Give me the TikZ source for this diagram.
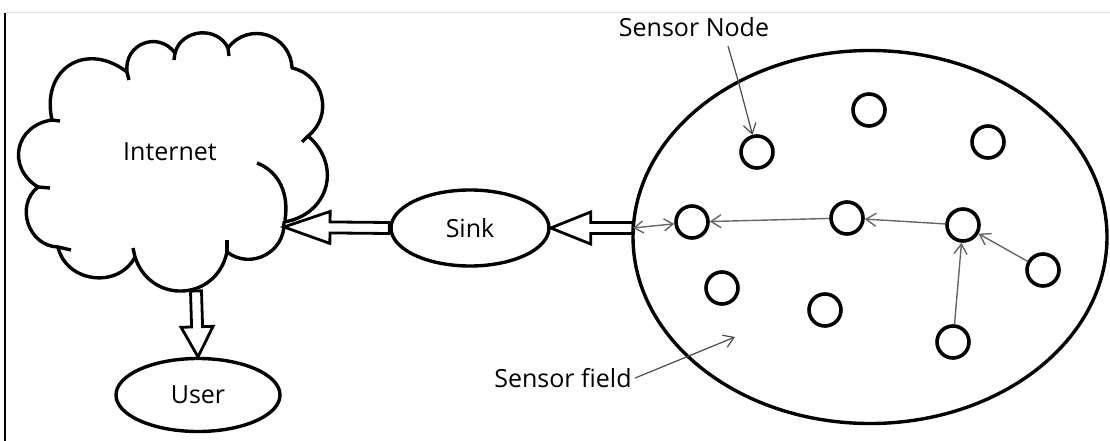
\documentclass[tikz,border=0pt]{standalone}
\usepackage{fontspec}
\setmainfont{Open Sans}
\usetikzlibrary{shapes.geometric,arrows.meta,calc}

\tikzset{
  bigshape/.style={draw, line width=3.4pt, font=\fontsize{25}{30}\selectfont},
  sensor/.style={circle, draw, line width=3.6pt, minimum size=32pt, inner sep=0pt},
  link/.style={draw=black!60, line width=1.4pt, -{Straight Barb[length=10pt,width=13pt]}},
  duplex/.style={draw=black!60, line width=1.4pt, {Straight Barb[length=9pt,width=12pt]}-{Straight Barb[length=9pt,width=12pt]}},
  pointer/.style={draw=black!70, line width=1.2pt, -{Straight Barb[length=10pt,width=13pt]}},
  tag/.style={font=\fontsize{25}{30}\selectfont},
  fat/.style={line width=2.8pt, line join=miter},
  puff/.style={line width=3.4pt, line join=round},
}

% hollow block arrow from #2 to #3, head length #1
\newcommand{\fatarrow}[3][46pt]{%
  \draw[fat] let \p1=(#2), \p2=(#3), \n1={atan2(\y2-\y1,\x2-\x1)} in
    ($(\p1)+(\n1+90:5.5pt)$) -- ($(\p2)+(\n1:-#1)+(\n1+90:5.5pt)$)
    -- ($(\p2)+(\n1:-#1)+(\n1+90:16pt)$) -- (\p2)
    -- ($(\p2)+(\n1:-#1)+(\n1-90:16pt)$) -- ($(\p2)+(\n1:-#1)+(\n1-90:5.5pt)$)
    -- ($(\p1)+(\n1-90:5.5pt)$) -- cycle;}

\begin{document}
\begin{tikzpicture}[x=1pt, y=-1pt]
\useasboundingbox (0,0) rectangle (1110,441);

% frame
\draw[black!12, line width=1pt] (5,13) -- (1110,13);
\draw[line width=1.6pt] (5,13) -- (5,441);

% internet cloud
\draw[puff] (52,120) to[bend left=70, looseness=1.5] (127,72)
  to[bend left=75, looseness=1.4] (175,53)
  to[bend left=70, looseness=1.2] (228,48)
  to[bend left=70, looseness=1.3] (292,68)
  to[bend left=65, looseness=1.2] (308,136)
  to[bend left=65, looseness=1.3] (284,222)
  to[bend left=65, looseness=1.2] (227,252)
  to[bend left=75, looseness=1.4] (135,257)
  to[bend left=70, looseness=1.2] (58,247)
  to[bend left=70, looseness=1.2] (38,187)
  to[bend left=70, looseness=1.4] cycle;
\foreach \ax/\ay/\bx/\by in {52/120/60/121, 127/72/129/80, 175/53/174/60, 228/48/229/56,
                             308/136/302/142, 227/252/227/240, 135/257/133/248,
                             58/247/71/250, 38/187/50/188}
  \draw[puff] (\ax,\ay) -- (\bx,\by);
\draw[puff] (257,163) .. controls (280,172) and (289,195) .. (285,220);
\node[tag] (internet) at (170,152) {Internet};

% user
\node[ellipse, bigshape, minimum width=164pt, minimum height=73pt] (user) at (198,395) {User};

% sink
\node[ellipse, bigshape, minimum width=158pt, minimum height=76pt] (sink) at (470,228) {Sink};

% sensor field
\node[ellipse, draw, line width=3.4pt, minimum width=474pt, minimum height=373pt] (field) at (870,237) {};

\foreach \name/\px/\py in {s1/757/152, s2/869/110, s3/988/142, s4/692/222, s5/847/218,
                           s6/963/225, s7/1043/270, s8/722/288, s9/825/310, s10/953/342}
  \node[sensor] (\name) at (\px,\py) {};

\coordinate (inetin) at (284,227);
\coordinate (inetout) at (196,291);
\coordinate (fieldport) at (633,228);
\coordinate (fieldpt) at (735,337);

% block arrows
\fatarrow{sink.west}{inetin}
\fatarrow[40pt]{fieldport}{sink.east}
\fatarrow[30pt]{inetout}{user.north}

% routing
\draw[link] (s6) -- (s5);
\draw[link] (s5) -- (s4);
\draw[link] (s7) -- (s6);
\draw[link] (s10) -- (s6);
\draw[duplex] (fieldport) -- (s4);

% labels
\node[tag] (nodetag) at (694,27) {Sensor Node};
\node[tag] (fieldtag) at (563,378) {Sensor field};
\draw[pointer] ([xshift=34pt,yshift=-6pt]nodetag.south) .. controls (738,80) .. (s1);
\draw[pointer] (fieldtag.east) -- (fieldpt);

\end{tikzpicture}
\end{document}
